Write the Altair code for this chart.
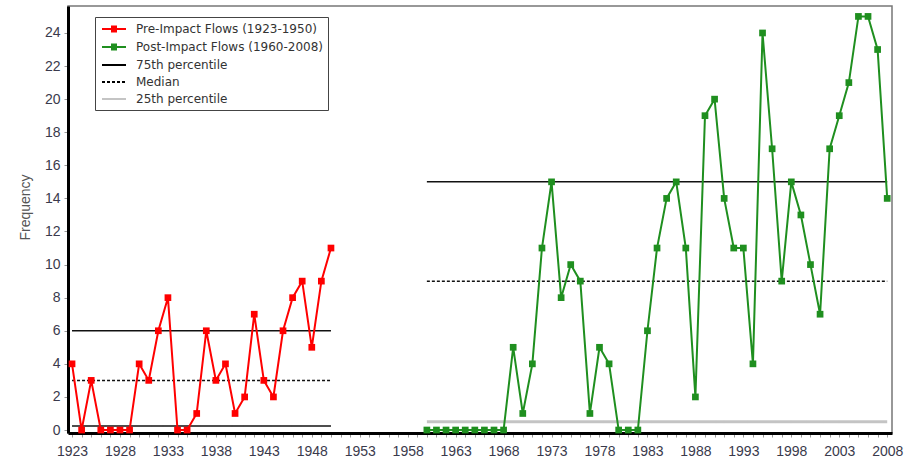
import altair as alt
import pandas as pd

# Series / legend labels
pre_label = "Pre-Impact Flows (1923-1950)"
post_label = "Post-Impact Flows (1960-2008)"
q75_label = "75th percentile"
median_label = "Median"
q25_label = "25th percentile"

# Annual frequency counts
pre_years = list(range(1923, 1951))
pre_counts = [4, 0, 3, 0, 0, 0, 0, 4, 3, 6,
              8, 0, 0, 1, 6, 3, 4, 1, 2, 7,
              3, 2, 6, 8, 9, 5, 9, 11]
post_years = list(range(1960, 2009))
post_counts = [0, 0, 0, 0, 0, 0, 0, 0, 0,
               5, 1, 4, 11, 15, 8, 10, 9, 1, 5,
               4, 0, 0, 0, 6, 11, 14, 15, 11, 2,
               19, 20, 14, 11, 11, 4, 24, 17, 9, 15,
               13, 10, 7, 17, 19, 21, 25, 25, 23, 14]

# Percentile reference lines per period
period_names = ["Pre", "Post"]
period_start = [1923, 1960]
period_end = [1950, 2008]
p75_values = [6, 15]
median_values = [3, 9]
p25_values = [0.25, 0.5]

# Axis ticks
year_ticks = list(range(1923, 2009))
freq_ticks = list(range(0, 25, 2))

pre_color = "#ff0000"
post_color = "#1f8f1f"
line_black = "#000000"
q25_grey = "#c4c4c4"

legend_order = [pre_label, post_label, q75_label, median_label, q25_label]
legend_colors = [pre_color, post_color, line_black, line_black, q25_grey]
legend_dashes = [[1, 0], [1, 0], [1, 0], [3, 2], [1, 0]]
# key glyphs: a line with a small solid square, or a plain line
marker_path = ("M-2,0H2M-0.5,-0.4H0.5M-0.5,-0.133H0.5"
               "M-0.5,0.133H0.5M-0.5,0.4H0.5")
rule_path = "M-2,0H2"
legend_shapes = [marker_path, marker_path, rule_path, rule_path, rule_path]

flows = pd.concat([
    pd.DataFrame({"year": pre_years, "count": pre_counts, "series": pre_label}),
    pd.DataFrame({"year": post_years, "count": post_counts, "series": post_label}),
], ignore_index=True)

rule_rows = []
for i, p in enumerate(period_names):
    for kind, vals in ((q75_label, p75_values), (median_label, median_values), (q25_label, p25_values)):
        rule_rows.append({"period": p, "kind": kind, "start": period_start[i],
                          "end": period_end[i], "value": vals[i]})
rules_df = pd.DataFrame(rule_rows)
legend_df = pd.DataFrame({"series": legend_order})

x_scale = alt.Scale(domain=[1922.58, 2008.5], nice=False, zero=False)
y_scale = alt.Scale(domain=[-0.18, 25.63], nice=False, zero=False)

x_axis = alt.Axis(values=year_ticks, title=None, grid=False,
                  labelExpr="(datum.value - 1923) % 5 == 0 ? '' + datum.value : ''",
                  domainColor="#000000", domainWidth=3, tickColor="#999999", tickSize=4,
                  labelFont="Liberation Sans", labelFontSize=14, labelColor="#3a3a4c",
                  labelPadding=7, labelOverlap=False, labelFlush=False)
y_axis = alt.Axis(values=freq_ticks, title="Frequency", grid=False,
                  domainColor="#000000", domainWidth=3, tickColor="#999999", tickSize=4,
                  labelFont="Liberation Sans", labelFontSize=14, labelColor="#3a3a4c",
                  labelPadding=4, labelOverlap=False, titleFont="Liberation Sans",
                  titleFontSize=14, titleFontWeight="normal", titleColor="#555555",
                  titleX=-43, titleY=201, titleBaseline="middle")

series_color = alt.Color("series:N",
                         scale=alt.Scale(domain=[pre_label, post_label], range=[pre_color, post_color]),
                         legend=None)

base = alt.Chart(flows)

lines = base.mark_line(strokeWidth=2).encode(
    x=alt.X("year:Q", scale=x_scale, axis=x_axis),
    y=alt.Y("count:Q", scale=y_scale, axis=y_axis),
    color=series_color,
)

markers = base.mark_square(size=45, opacity=1).encode(
    x=alt.X("year:Q", scale=x_scale, axis=x_axis),
    y=alt.Y("count:Q", scale=y_scale, axis=y_axis),
    color=series_color,
)

is_post_q25 = (alt.datum.period == "Post") & (alt.datum.kind == q25_label)
is_median = alt.datum.kind == median_label

percentiles = alt.Chart(rules_df).mark_rule().encode(
    x=alt.X("start:Q", scale=x_scale, axis=x_axis),
    x2="end:Q",
    y=alt.Y("value:Q", scale=y_scale, axis=y_axis),
    stroke=alt.condition(is_post_q25, alt.value(q25_grey), alt.value("#111111")),
    strokeDash=alt.condition(is_median, alt.value([3, 2]), alt.value([1, 0])),
    strokeWidth=alt.condition(is_post_q25, alt.value(3), alt.value(1.5)),
)

# Key entries (the layer itself draws nothing visible)
key = alt.Chart(legend_df).mark_point(opacity=0, filled=False).encode(
    shape=alt.Shape("series:N", scale=alt.Scale(domain=legend_order, range=legend_shapes),
                    legend=alt.Legend(title=None)),
    stroke=alt.Stroke("series:N", scale=alt.Scale(domain=legend_order, range=legend_colors),
                      legend=alt.Legend(title=None)),
    strokeDash=alt.StrokeDash("series:N", scale=alt.Scale(domain=legend_order, range=legend_dashes),
                              legend=alt.Legend(title=None)),
)

chart = alt.layer(percentiles, lines, markers, key).properties(
    width=824,
    height=427,
    autosize=alt.AutoSizeParams(type="none"),
    padding={"left": 68, "top": 6, "right": 24, "bottom": 29},
    background="white",
).configure_view(
    stroke="#777777", strokeWidth=1.5
).configure_legend(
    orient="none", legendX=27, legendY=11, padding=5,
    strokeColor="#444444", fillColor="white",
    labelFont="DejaVu Sans", labelFontSize=12, labelColor="#333333", labelLimit=300,
    symbolSize=144, symbolStrokeWidth=2, symbolOffset=7, labelOffset=15,
    rowPadding=4, symbolOpacity=1,
)

chart.save("out.html", embed_options={"renderer": "svg", "actions": False})
